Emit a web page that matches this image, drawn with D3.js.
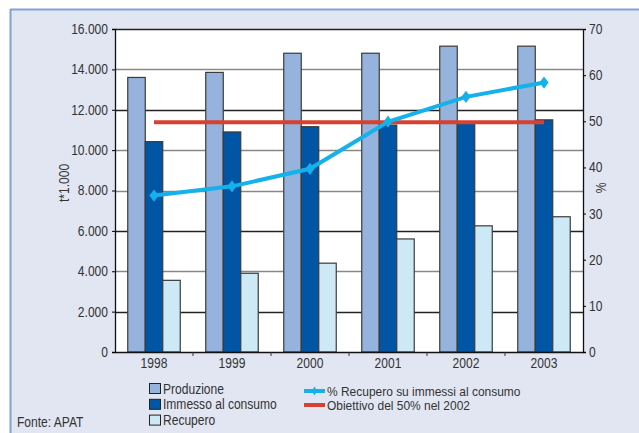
<!DOCTYPE html>
<html><head><meta charset="utf-8">
<script src="https://cdn.jsdelivr.net/npm/d3@7"></script>
<style>
body{margin:0;background:#fff;}
text{font-family:"Liberation Sans Narrow","Arial Narrow","Liberation Sans",Arial,sans-serif;fill:#333;}
</style></head><body>
<svg id="c" width="639" height="433"></svg>
<script>
const years = ["1998","1999","2000","2001","2002","2003"];
const produzione = [13600, 13850, 14800, 14800, 15150, 15150];
const immesso = [10420, 10900, 11160, 11240, 11400, 11500];
const recupero = [3550, 3900, 4400, 5600, 6250, 6700];
const percRecupero = [33.9, 35.9, 39.7, 49.9, 55.3, 58.4];
const obiettivo = 50;
const leftTicks = [0,2000,4000,6000,8000,10000,12000,14000,16000];
const rightTicks = [0,10,20,30,40,50,60,70];
const seriesNames = ["Produzione","Immesso al consumo","Recupero"];
const lineNames = ["% Recupero su immessi al consumo","Obiettivo del 50% nel 2002"];

const svg = d3.select("#c");
svg.append("rect").attr("x",10).attr("y",9).attr("width",640).attr("height",440).attr("fill","#e1e6f2");
svg.append("line").attr("x1",10).attr("x2",639).attr("y1",9.5).attr("y2",9.5).attr("stroke","#7fa3d3").attr("stroke-width",2);
svg.append("line").attr("x1",10.5).attr("x2",10.5).attr("y1",9).attr("y2",433).attr("stroke","#7fa3d3").attr("stroke-width",2);

const L=115, R=583, T=29, B=352;
svg.append("rect").attr("x",L).attr("y",T).attr("width",R-L).attr("height",B-T).attr("fill","#fff");

const x = d3.scaleBand().domain(years).range([L,R]);
const yL = d3.scaleLinear().domain([0,16000]).range([B,T]);
const yR = d3.scaleLinear().domain([0,70]).range([B,T]);
const loc = d3.formatLocale({decimal:",",thousands:".",grouping:[3],currency:["","€"]});
const fmt = loc.format(",");

const gridDark = new Set([2000,6000,12000,16000]);
svg.append("g").selectAll("line").data(leftTicks.filter(d=>d>0)).join("line")
  .attr("x1",L).attr("x2",R).attr("y1",d=>Math.round(yL(d))+0.5).attr("y2",d=>Math.round(yL(d))+0.5)
  .attr("stroke",d=>gridDark.has(d)?"#222":"#888").attr("stroke-width",1.3);

const groupW = 52.5;
const x1 = d3.scaleBand().domain(seriesNames).range([0,groupW]);
const colors = ["#95b3dd","#0055a5","#cde9f5"];
const data = [produzione, immesso, recupero];
seriesNames.forEach((s,i)=>{
  svg.append("g").selectAll("rect").data(years).join("rect")
    .attr("x",(d)=>x(d)+x.bandwidth()/2-groupW/2+x1(s))
    .attr("y",(d,j)=>yL(data[i][j]))
    .attr("width",x1.bandwidth())
    .attr("height",(d,j)=>B-yL(data[i][j]))
    .attr("fill",colors[i]).attr("stroke","#3a3a3a").attr("stroke-width",1.2);
});

svg.append("line").attr("x1",x(years[0])+x.bandwidth()/2).attr("x2",x(years[5])+x.bandwidth()/2)
  .attr("y1",yR(obiettivo)+1).attr("y2",yR(obiettivo)+1).attr("stroke","#d8402f").attr("stroke-width",4);

const line = d3.line().x((d,i)=>x(years[i])+x.bandwidth()/2).y(d=>yR(d));
svg.append("path").datum(percRecupero).attr("d",line).attr("fill","none").attr("stroke","#14b1ea").attr("stroke-width",4);
svg.append("g").selectAll("path").data(percRecupero).join("path")
  .attr("d",d3.symbol(d3.symbolDiamond,60))
  .attr("transform",(d,i)=>`translate(${x(years[i])+x.bandwidth()/2},${yR(d)}) scale(1.1,0.85)`)
  .attr("fill","#14b1ea");

const axL = svg.append("g").attr("transform",`translate(${L},0)`)
  .call(d3.axisLeft(yL).tickValues(leftTicks).tickFormat(fmt).tickSize(3).tickPadding(4));
axL.select(".domain").attr("stroke","#111").attr("stroke-width",1.3);
axL.selectAll("text").style("font-size","14px").attr("fill","#333");
const axR = svg.append("g").attr("transform",`translate(${R},0)`)
  .call(d3.axisRight(yR).tickValues(rightTicks).tickSize(3).tickPadding(3));
axR.select(".domain").attr("stroke","#111").attr("stroke-width",1.3);
axR.selectAll("text").style("font-size","14px").attr("fill","#333");
const axB = svg.append("g").attr("transform",`translate(0,${B})`)
  .call(d3.axisBottom(x).tickSize(0).tickPadding(6));
axB.select(".domain").attr("stroke","#111").attr("stroke-width",1.3);
axB.selectAll("text").style("font-size","14px").attr("fill","#333");
svg.append("g").selectAll("line").data(d3.range(1,6)).join("line")
  .attr("x1",i=>L+i*x.step()).attr("x2",i=>L+i*x.step()).attr("y1",B).attr("y2",B+4).attr("stroke","#333");

svg.append("text").attr("transform","translate(69,183) rotate(-90)").attr("text-anchor","middle").style("font-size","14px").text("t*1.000");
svg.append("text").attr("transform","translate(606,188) rotate(-90)").attr("text-anchor","middle").style("font-size","14px").text("%");

const lg = svg.append("g");
seriesNames.forEach((s,i)=>{
  const yy = 383 + i*15.8;
  lg.append("rect").attr("x",149.5).attr("y",yy+0.5).attr("width",11).attr("height",10).attr("fill",colors[i]).attr("stroke","#222");
  lg.append("text").attr("x",163).attr("y",yy+10.5).style("font-size","14px").text(s);
});
const lcols = ["#14b1ea","#d8402f"];
lineNames.forEach((s,i)=>{
  const yy = 391 + i*14;
  lg.append("line").attr("x1",304).attr("x2",325).attr("y1",yy).attr("y2",yy).attr("stroke",lcols[i]).attr("stroke-width",4);
  if(i===0) lg.append("path").attr("d",d3.symbol(d3.symbolDiamond,24)).attr("transform",`translate(314.5,${yy})`).attr("fill",lcols[i]);
  lg.append("text").attr("x",327).attr("y",yy+4.5).style("font-size","13px").text(s);
});
svg.append("text").attr("x",17).attr("y",427).style("font-size","14px").text("Fonte: APAT");

// condense text (reference uses a condensed face)
svg.selectAll("text").each(function(){
  const w = this.getComputedTextLength();
  const f = parseFloat(getComputedStyle(this).fontSize) < 13.5 ? 0.92 : 0.86;
  if (w > 0) d3.select(this).attr("textLength", w*f).attr("lengthAdjust","spacingAndGlyphs");
});
</script></body></html>
